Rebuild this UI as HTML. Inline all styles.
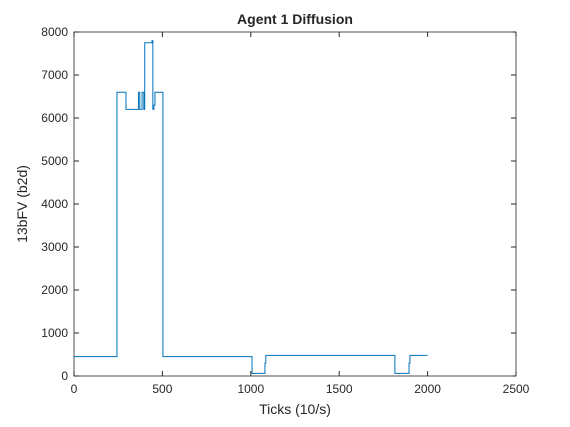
<!DOCTYPE html>
<html><head><meta charset="utf-8"><style>
body{margin:0;background:#fff;width:570px;height:422px;overflow:hidden}
svg text{font-family:"Liberation Sans",sans-serif;fill:#262626}
</style></head><body>
<svg id="chart" width="570" height="422" xmlns="http://www.w3.org/2000/svg">
<rect x="0" y="0" width="570" height="422" fill="#fff"/>
<text x="295" y="24" font-size="14" font-weight="bold" text-anchor="middle">Agent 1 Diffusion</text>
<rect x="74" y="32" width="442" height="344" fill="#fff" stroke="#262626" stroke-width="0.8"/>
<g id="ticks"></g>
<path id="series" fill="none" stroke="#0072bd" stroke-width="1"/>
<text x="295" y="414" font-size="14" text-anchor="middle">Ticks (10/s)</text>
<text transform="translate(27,204) rotate(-90)" font-size="14" text-anchor="middle">13bFV (b2d)</text>
</svg>
<script>
const xTicks=[0,500,1000,1500,2000,2500];
const yTicks=[0,1000,2000,3000,4000,5000,6000,7000,8000];
const stepTicks=[0,243,294,365,372,385,395,400,441,446,452,458,503,1007,1080,1085,1815,1895,1900,2000];
const stepValues=[450,6600,6200,6600,6200,6600,6200,7750,7800,6200,6300,6600,450,60,300,480,60,300,480,480];
const X=v=>74+v*442/2500, Y=v=>376-v*344/8000;
const ns="http://www.w3.org/2000/svg", g=document.getElementById('ticks');
function mk(t,a){const e=document.createElementNS(ns,t);for(const k in a)e.setAttribute(k,a[k]);g.appendChild(e);return e;}
xTicks.forEach(v=>{
 const l=mk('line',{x1:X(v),x2:X(v),y1:376,y2:371,stroke:'#262626'});
 
 
 const l2=mk('line',{x1:X(v),x2:X(v),y1:32,y2:37,stroke:'#262626'});
 
 
 const t=mk('text',{x:X(v),y:393,'font-size':12,'text-anchor':'middle'});t.textContent=v;
 
 
});
yTicks.forEach(v=>{
 const l=mk('line',{x1:74,x2:79,y1:Y(v),y2:Y(v),stroke:'#262626'});
 
 
 const l2=mk('line',{x1:511,x2:516,y1:Y(v),y2:Y(v),stroke:'#262626'});
 
 
 const t=mk('text',{x:68,y:Y(v)+4,'font-size':12,'text-anchor':'end'});t.textContent=v;
 
 
});
let d='M'+X(stepTicks[0])+','+Y(stepValues[0]);
for(let i=1;i<stepTicks.length;i++){d+=' L'+X(stepTicks[i])+','+Y(stepValues[i-1])+' L'+X(stepTicks[i])+','+Y(stepValues[i]);}
document.getElementById('series').setAttribute('d',d);
</script>
</body></html>
